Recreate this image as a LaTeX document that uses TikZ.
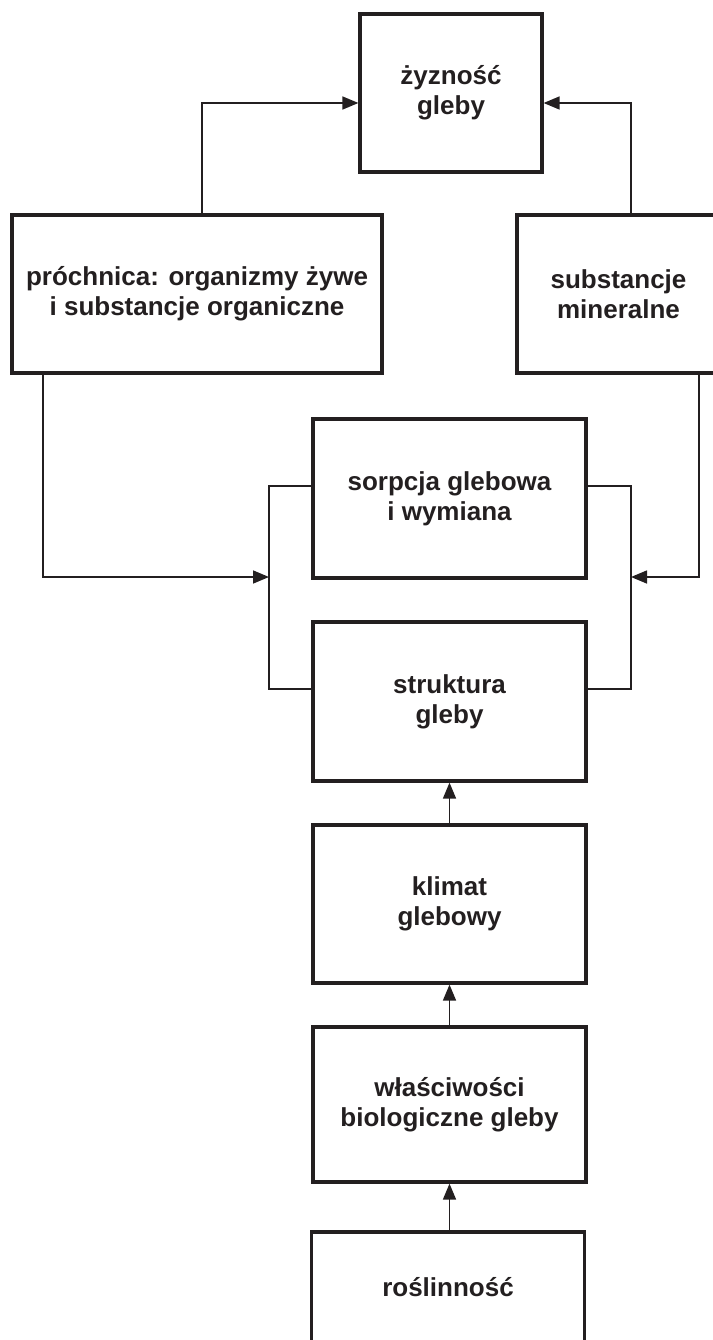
\documentclass[tikz,border=0pt]{standalone}
\usepackage{fontspec}
\setmainfont{Liberation Sans}
\usetikzlibrary{arrows.meta}
\definecolor{ink}{HTML}{231F20}
\begin{document}
\begin{tikzpicture}[x=1pt,y=-1pt,
  box/.style={draw=ink,line width=3.2pt,rectangle,inner sep=0pt,align=center,
    text=ink,font=\bfseries\fontsize{26}{30}\selectfont},
  conn/.style={draw=ink,line width=1.6pt},
  arr/.style={conn,-{Triangle[length=16pt,width=13pt]}}]
\useasboundingbox (0,0) rectangle (712,1340);
\node[box,minimum width=182pt,minimum height=158pt] (zyz) at (451,93) {żyzność\\gleby};
\node[box,minimum width=370pt,minimum height=158pt] (proch) at (197,294) {próchnica: organizmy żywe\\i substancje organiczne};
\node[box,minimum width=203pt,minimum height=158pt] (miner) at (618.5,294) {substancje\\mineralne};
\node[box,minimum width=273pt,minimum height=159pt] (sorp) at (449.5,498.5) {sorpcja glebowa\\i wymiana};
\node[box,minimum width=273pt,minimum height=159pt] (strukt) at (449.5,701.5) {struktura\\gleby};
\node[box,minimum width=273pt,minimum height=158pt] (klimat) at (449.5,904) {klimat\\glebowy};
\node[box,minimum width=273pt,minimum height=155pt] (wlasc) at (449.5,1104.5) {właściwości\\biologiczne gleby};
\node[box,minimum width=273pt,minimum height=110pt] (rosl) at (448,1287) {roślinność};
\coordinate (bl) at (269,577);
\coordinate (br) at (631,577);
% to top box
\draw[arr] ([xshift=5pt]proch.north) |- ([yshift=-10pt]zyz.west);
\draw[arr] ([xshift=12.5pt]miner.north) |- ([yshift=-10pt]zyz.east);
% to bracket
\draw[arr] ([xshift=-154pt]proch.south) |- (bl);
\draw[arr] ([xshift=80.5pt]miner.south) |- (br);
% brackets
\draw[conn] ([yshift=12.5pt]sorp.west) -| (bl) |- ([yshift=12.5pt]strukt.west);
\draw[conn] ([yshift=12.5pt]sorp.east) -| (br) |- ([yshift=12.5pt]strukt.east);
% vertical chain
\draw[arr] (klimat.north) -- (strukt.south);
\draw[arr] (wlasc.north) -- (klimat.south);
\draw[arr] (wlasc.south |- rosl.north) -- (wlasc.south);
\end{tikzpicture}
\end{document}
